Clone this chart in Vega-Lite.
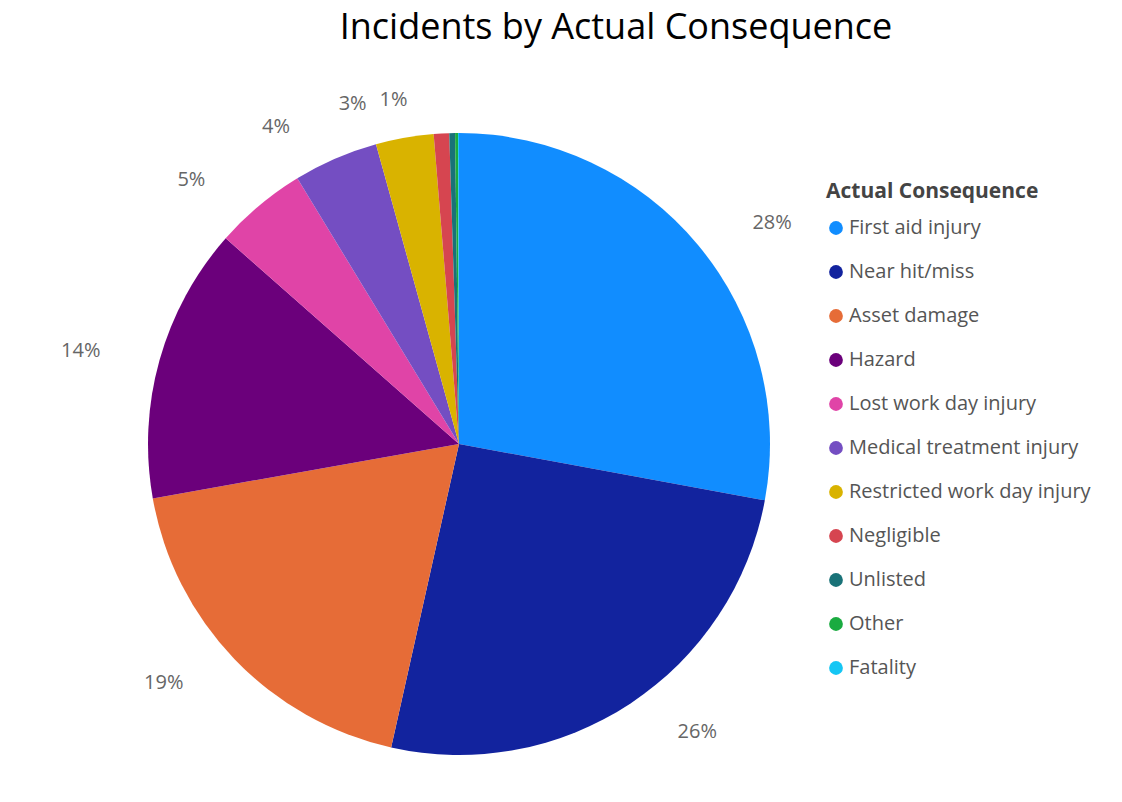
{
  "$schema": "https://vega.github.io/schema/vega-lite/v6.json",
  "autosize": "none",
  "width": 640,
  "height": 640,
  "padding": {"left": 139, "top": 124, "right": 343, "bottom": 38},
  "background": "white",
  "title": {
    "text": "Incidents by Actual Consequence",
    "fontSize": 36,
    "font": "Open Sans",
    "fontWeight": "normal",
    "color": "#000000",
    "anchor": "middle",
    "dx": 157,
    "offset": 42
  },
  "config": {
    "view": {"stroke": null},
    "font": "Open Sans"
  },
  "data": {
    "values": [
      {"consequence": "First aid injury", "share": 27.9, "rank": 1, "label": "28%"},
      {"consequence": "Near hit/miss", "share": 25.6, "rank": 2, "label": "26%"},
      {"consequence": "Asset damage", "share": 18.7, "rank": 3, "label": "19%"},
      {"consequence": "Hazard", "share": 14.3, "rank": 4, "label": "14%"},
      {"consequence": "Lost work day injury", "share": 4.8, "rank": 5, "label": "5%"},
      {"consequence": "Medical treatment injury", "share": 4.4, "rank": 6, "label": "4%"},
      {"consequence": "Restricted work day injury", "share": 3.0, "rank": 7, "label": "3%"},
      {"consequence": "Negligible", "share": 0.8, "rank": 8, "label": "1%"},
      {"consequence": "Unlisted", "share": 0.3, "rank": 9, "label": ""},
      {"consequence": "Other", "share": 0.15, "rank": 10, "label": ""},
      {"consequence": "Fatality", "share": 0.05, "rank": 11, "label": ""}
    ]
  },
  "encoding": {
    "theta": {"field": "share", "type": "quantitative", "stack": true},
    "order": {"field": "rank", "type": "quantitative", "sort": "ascending"},
    "color": {
      "field": "consequence",
      "type": "nominal",
      "title": "Actual Consequence",
      "scale": {
        "domain": ["First aid injury", "Near hit/miss", "Asset damage", "Hazard", "Lost work day injury", "Medical treatment injury", "Restricted work day injury", "Negligible", "Unlisted", "Other", "Fatality"],
        "range": ["#118DFF", "#12239E", "#E66C37", "#6B007B", "#E044A7", "#744EC2", "#D9B300", "#D64550", "#197278", "#1AAB40", "#15C6F4"]
      },
      "legend": {
        "orient": "none",
        "legendX": 687,
        "legendY": 57,
        "symbolType": "circle",
        "symbolSize": 190,
        "symbolStrokeWidth": 0,
        "titleFontSize": 21,
        "titleFont": "Open Sans",
        "titleFontWeight": "bold",
        "titleColor": "#444444",
        "titlePadding": 16,
        "titleLimit": 400,
        "labelFontSize": 20,
        "labelFont": "Open Sans",
        "labelColor": "#555555",
        "labelOffset": 3,
        "labelLimit": 320,
        "rowPadding": 24
      }
    }
  },
  "layer": [
    {
      "mark": {"type": "arc", "outerRadius": 311}
    },
    {
      "mark": {"type": "text", "radius": 345, "dx": 48, "fontSize": 20, "font": "Open Sans", "color": "#666666"},
      "encoding": {
        "text": {"condition": {"test": "datum.rank <= 2", "field": "label"}, "value": ""},
        "color": {"value": "#666666"}
      }
    },
    {
      "mark": {"type": "text", "radius": 345, "dx": -46, "fontSize": 20, "font": "Open Sans", "color": "#666666"},
      "encoding": {
        "text": {"condition": {"test": "datum.rank > 2", "field": "label"}, "value": ""},
        "color": {"value": "#666666"}
      }
    }
  ]
}
